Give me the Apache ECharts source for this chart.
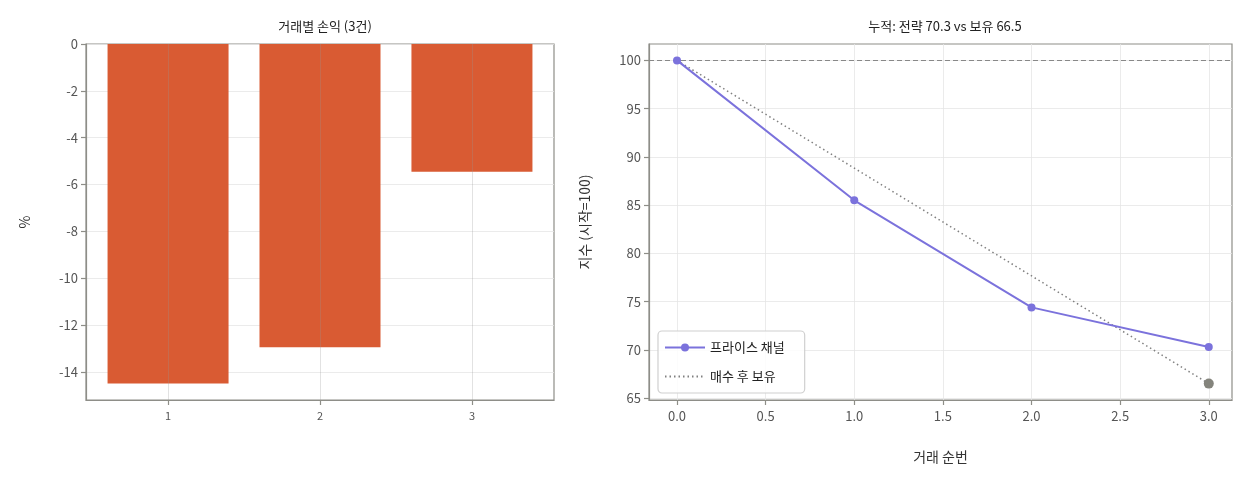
<!DOCTYPE html>
<html>
<head>
<meta charset="utf-8">
<title>거래별 손익</title>
<script src="https://cdn.jsdelivr.net/npm/echarts@6/dist/echarts.min.js"></script>
<style>
html, body { margin: 0; padding: 0; background: #fff; }
#main { width: 1249px; height: 484px; }
</style>
</head>
<body>
<div id="main"></div>
<script>
// 거래별 손익 (%)
var tradeNo = [1, 2, 3];
var tradePnl = [-14.5, -12.95, -5.45];

// 누적 지수
var seqNo = [0, 1, 2, 3];
var strategyIdx = [100, 85.5, 74.4, 70.3];
var holdX = [0, 3];
var holdIdx = [100, 66.5];

var leftYTicks = [0, -2, -4, -6, -8, -10, -12, -14];
var rightYTicks = [65, 70, 75, 80, 85, 90, 95, 100];
var rightXTicks = [0, 0.5, 1, 1.5, 2, 2.5, 3];

var FONT = '"Noto Sans CJK KR", "Noto Sans", sans-serif';
var SPINE = '#8e8e88';
var GRIDC = '#e6e6e6';
var LBL = '#555';

var chart = echarts.init(document.getElementById('main'));

function zip(xs, ys) {
    return xs.map(function (x, i) { return [x, ys[i]]; });
}

function axisBase(extra) {
    var a = {
        type: 'value',
        axisLine: { show: true, onZero: false, lineStyle: { color: SPINE, width: 1.2 } },
        axisTick: { show: true, length: 5, lineStyle: { color: SPINE, width: 1.2 } },
        axisLabel: { color: LBL, fontFamily: FONT, fontSize: 13, margin: 8 },
        splitLine: { show: true, lineStyle: { color: GRIDC, width: 0.8 } },
        nameTextStyle: { color: '#333', fontFamily: FONT, fontSize: 14 }
    };
    for (var k in extra) a[k] = extra[k];
    return a;
}

chart.setOption({
    animation: false,
    textStyle: { fontFamily: FONT },
    title: [
        { text: '거래별 손익 (3건)', left: 320, top: 15, textAlign: 'center',
          textStyle: { fontSize: 13, fontWeight: 'normal', color: '#222', fontFamily: FONT } },
        { text: '누적: 전략 70.3 vs 보유 66.5', left: 940, top: 15, textAlign: 'center',
          textStyle: { fontSize: 13, fontWeight: 'normal', color: '#222', fontFamily: FONT } }
    ],
    grid: [
        { left: 86, top: 44, width: 468, height: 356, show: true, borderColor: SPINE, borderWidth: 1.2, backgroundColor: 'transparent' },
        { left: 649, top: 44, width: 583, height: 356, show: true, borderColor: SPINE, borderWidth: 1.2, backgroundColor: 'transparent' }
    ],
    xAxis: [
        axisBase({
            gridIndex: 0, min: 0.46, max: 3.54, z: 3,
            axisTick: { show: true, length: 5, customValues: tradeNo, lineStyle: { color: SPINE, width: 1.2 } },
            axisLabel: { color: LBL, fontFamily: FONT, fontSize: 11, margin: 10, customValues: tradeNo },
            splitLine: { show: true, lineStyle: { color: 'rgba(150,150,150,0.35)', width: 0.8 } }
        }),
        axisBase({
            gridIndex: 1, min: -0.158, max: 3.131,
            name: '거래 순번', nameLocation: 'middle', nameGap: 50,
            axisTick: { show: true, length: 5, customValues: rightXTicks, lineStyle: { color: SPINE, width: 1.2 } },
            axisLabel: { color: LBL, fontFamily: FONT, fontSize: 13, margin: 10, customValues: rightXTicks,
                         formatter: function (v) { return v.toFixed(1); } }
        })
    ],
    yAxis: [
        axisBase({
            gridIndex: 0, min: -15.2, max: 0,
            name: '%', nameLocation: 'middle', nameGap: 54,
            axisTick: { show: true, length: 5, customValues: leftYTicks, lineStyle: { color: SPINE, width: 1.2 } },
            axisLabel: { color: LBL, fontFamily: FONT, fontSize: 13, margin: 8, customValues: leftYTicks }
        }),
        axisBase({
            gridIndex: 1, min: 64.8, max: 101.7,
            name: '지수 (시작=100)', nameLocation: 'middle', nameGap: 57,
            axisTick: { show: true, length: 5, customValues: rightYTicks, lineStyle: { color: SPINE, width: 1.2 } },
            axisLabel: { color: LBL, fontFamily: FONT, fontSize: 13, margin: 8, customValues: rightYTicks }
        })
    ],
    legend: {
        left: 658, top: 331, orient: 'vertical',
        data: [
            { name: '프라이스 채널' },
            { name: '매수 후 보유', itemStyle: { opacity: 0 } }
        ],
        backgroundColor: 'rgba(255,255,255,0.85)',
        borderColor: '#d0d0d0', borderWidth: 1.2, borderRadius: 4,
        padding: [10, 20, 10, 6], itemGap: 16, itemWidth: 40, itemHeight: 10,
        textStyle: { fontFamily: FONT, fontSize: 13, color: '#222' }
    },
    series: [
        {
            type: 'bar', xAxisIndex: 0, yAxisIndex: 0,
            data: zip(tradeNo, tradePnl), barWidth: 121,
            itemStyle: { color: '#d95b33' }
        },
        {
            name: '프라이스 채널', type: 'line', xAxisIndex: 1, yAxisIndex: 1,
            data: zip(seqNo, strategyIdx),
            symbol: 'circle', symbolSize: 8,
            lineStyle: { color: '#7b72dc', width: 2 },
            itemStyle: { color: '#7b72dc' },
            z: 5,
            markLine: {
                silent: true, symbol: 'none', label: { show: false },
                lineStyle: { color: '#888', type: [5, 3], width: 1.2 },
                data: [{ yAxis: 100 }]
            }
        },
        {
            name: '매수 후 보유', type: 'line', xAxisIndex: 1, yAxisIndex: 1,
            data: zip(holdX, holdIdx),
            symbol: 'none',
            lineStyle: { color: '#808080', type: [1.5, 3], width: 1.5 },
            itemStyle: { color: '#808080' },
            z: 3
        },
        {
            type: 'scatter', xAxisIndex: 1, yAxisIndex: 1,
            data: [zip(holdX, holdIdx)[1]],
            symbolSize: 10,
            itemStyle: { color: '#84847c', opacity: 1 },
            z: 4
        }
    ]
});
</script>
</body>
</html>
